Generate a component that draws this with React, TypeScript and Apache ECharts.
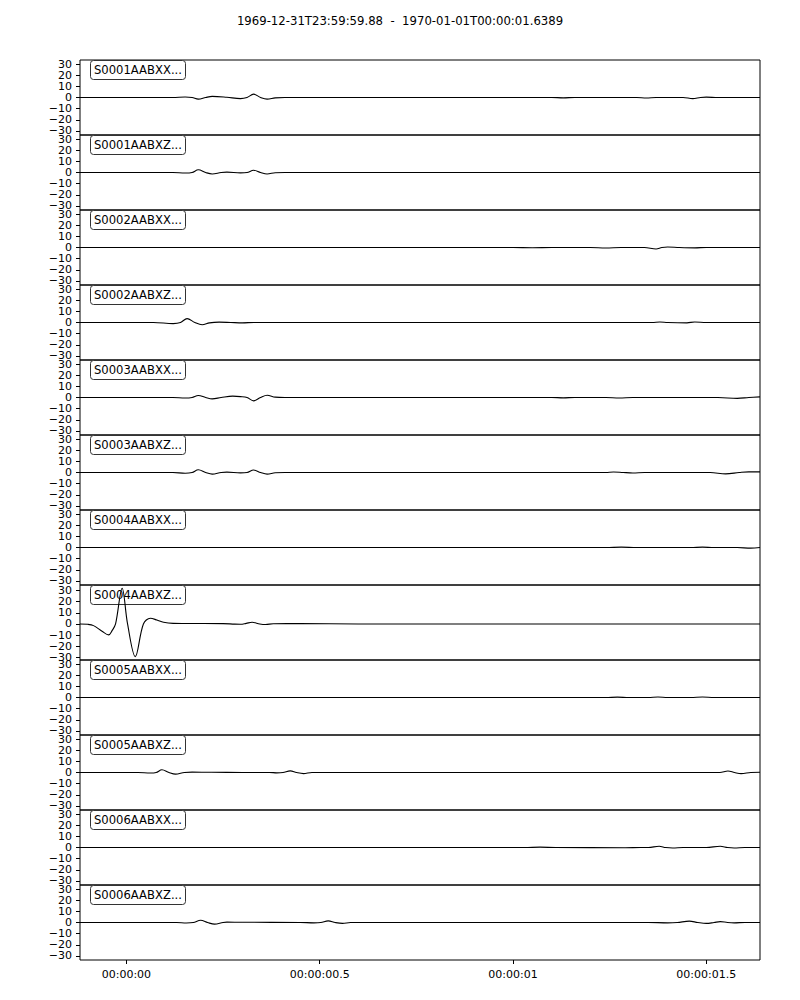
import React, { useEffect, useRef } from 'react';
import * as echarts from 'echarts';

const TITLE = '1969-12-31T23:59:59.88  -  1970-01-01T00:00:01.6389';
const T_MIN = -0.12;
const T_MAX = 1.6389;
const Y_HALF = 33.6;
const Y_TICKS = [-30, -20, -10, 0, 10, 20, 30];
const X_TICKS = [0, 0.5, 1, 1.5];
const X_TICK_LABELS = ['00:00:00', '00:00:00.5', '00:00:01', '00:00:01.5'];

const STATIONS = [
  'S0001AABXX...', 'S0001AABXZ...', 'S0002AABXX...', 'S0002AABXZ...',
  'S0003AABXX...', 'S0003AABXZ...', 'S0004AABXX...', 'S0004AABXZ...',
  'S0005AABXX...', 'S0005AABXZ...', 'S0006AABXX...', 'S0006AABXZ...',
];

// per-panel centre of the y range (trace mean)
const Y_CENTERS = [0, 0, 0, 0, 0, 0, 0, 1.3, 0, 0, 0, 0];

// [time (s), amplitude]
const S0001AABXX: number[][] = [
  [-0.12, 0], [0.12, 0], [0.152, 0.5], [0.17, 0], [0.186, -1.5], [0.205, 0], [0.222, 1], [0.26, 0.2],
  [0.295, -1], [0.312, 0], [0.329, 3], [0.347, 0], [0.364, -1.5], [0.385, -0.3], [0.41, 0],
  [1.1, 0], [1.13, -0.3], [1.16, 0], [1.32, 0], [1.345, -0.5], [1.37, 0], [1.44, 0], [1.465, -1],
  [1.485, 0], [1.5, 0.3], [1.53, 0], [1.6389, 0],
];
const S0001AABXZ: number[][] = [
  [-0.12, 0], [0.12, 0], [0.152, -0.5], [0.17, 0], [0.186, 2.4], [0.205, 0], [0.222, -1.3], [0.245, 0],
  [0.26, 0.3], [0.295, -0.3], [0.312, 0], [0.329, 2], [0.347, 0], [0.364, -1.3], [0.385, -0.2],
  [0.41, 0], [1.6389, 0],
];
const S0002AABXX: number[][] = [
  [-0.12, 0], [1.0, 0], [1.05, -0.2], [1.1, 0], [1.2, 0], [1.24, -0.5], [1.28, 0], [1.34, 0],
  [1.37, -1.3], [1.385, 0], [1.4, 0.5], [1.43, 0], [1.47, -0.3], [1.5, 0], [1.6389, 0],
];
const S0002AABXZ: number[][] = [
  [-0.12, 0], [0.07, 0], [0.121, -1], [0.14, 0], [0.157, 3.5], [0.177, 0], [0.196, -2], [0.215, -0.3],
  [0.24, 0.3], [0.27, 0], [0.3, -0.3], [0.33, 0], [1.36, 0], [1.38, 0.5], [1.4, 0], [1.45, -0.3],
  [1.47, 0.5], [1.5, 0], [1.6389, 0],
];
const S0003AABXX: number[][] = [
  [-0.12, 0], [0.12, 0], [0.152, -0.5], [0.17, 0], [0.186, 1.8], [0.205, 0], [0.222, -1.2], [0.245, 0],
  [0.275, 1.2], [0.295, 0.8], [0.312, 0], [0.329, -3], [0.347, 0], [0.364, 2], [0.385, 0.3], [0.41, 0],
  [1.1, 0], [1.13, -0.3], [1.16, 0], [1.24, 0], [1.275, -0.5], [1.31, 0], [1.53, 0], [1.58, -0.8],
  [1.61, 0], [1.6389, 0.6],
];
const S0003AABXZ: number[][] = [
  [-0.12, 0], [0.12, 0], [0.152, -0.7], [0.17, 0], [0.186, 2.4], [0.205, 0], [0.222, -1.5], [0.245, 0],
  [0.26, 0.3], [0.295, -0.3], [0.312, 0], [0.329, 2.2], [0.347, 0], [0.364, -1.5], [0.385, -0.2],
  [0.41, 0], [1.24, 0], [1.26, 0.5], [1.285, 0], [1.31, -0.4], [1.34, 0], [1.51, 0], [1.55, -1.2],
  [1.585, 0], [1.61, 0.6], [1.6389, 0.6],
];
const S0004AABXX: number[][] = [
  [-0.12, 0], [1.24, 0], [1.28, 0.3], [1.32, 0], [1.46, 0], [1.49, 0.3], [1.52, 0], [1.58, 0],
  [1.615, -0.6], [1.6389, 0],
];
const S0004AABXZ: number[][] = [
  [-0.12, 0], [-0.1, -0.3], [-0.085, -1.5], [-0.063, -6.5], [-0.046, -9.8], [-0.037, -6], [-0.028, 0],
  [-0.011, 32], [0.003, 0], [0.023, -29.3], [0.044, 0], [0.062, 5.1], [0.079, 3.5], [0.096, 1.5],
  [0.121, 0.5], [0.15, 0.4], [0.25, 0.3], [0.28, -0.2], [0.295, -0.3], [0.31, 0.5], [0.325, 1.5],
  [0.345, 0], [0.36, -0.5], [0.38, 0.2], [0.45, 0.3], [0.6, 0], [1.6389, 0],
];
const S0005AABXX: number[][] = [
  [-0.12, 0], [1.24, 0], [1.27, 0.3], [1.3, 0], [1.35, 0], [1.375, 0.5], [1.4, 0], [1.46, 0],
  [1.49, 0.5], [1.52, 0], [1.6389, 0],
];
const S0005AABXZ: number[][] = [
  [-0.12, 0], [0.03, 0], [0.062, -0.5], [0.077, 0], [0.092, 2.4], [0.11, 0], [0.127, -1.5], [0.15, 0],
  [0.17, 0.3], [0.22, 0.2], [0.3, 0], [0.37, 0], [0.389, -0.3], [0.405, 0], [0.424, 1.5], [0.44, 0],
  [0.458, -1], [0.48, 0], [1.535, 0], [1.556, 1.3], [1.573, 0], [1.59, -1], [1.615, 0], [1.6389, 0.2],
];
const S0006AABXX: number[][] = [
  [-0.12, 0], [1.03, 0], [1.07, 0.3], [1.11, 0], [1.29, -0.2], [1.33, 0], [1.35, 0], [1.378, 1.1],
  [1.395, 0], [1.413, -0.4], [1.44, 0], [1.5, 0], [1.536, 1.1], [1.555, 0], [1.572, -0.4], [1.6, 0],
  [1.6389, 0],
];
const S0006AABXZ: number[][] = [
  [-0.12, 0], [0.13, 0], [0.155, -0.4], [0.173, 0], [0.192, 2], [0.21, 0], [0.228, -1.5], [0.25, 0],
  [0.26, 0.3], [0.3, 0.2], [0.45, 0], [0.485, -0.3], [0.503, 0], [0.522, 1.5], [0.54, 0],
  [0.559, -0.8], [0.58, 0], [1.35, 0], [1.4, -0.3], [1.425, 0], [1.456, 1.2], [1.478, 0], [1.5, -0.8],
  [1.52, 0], [1.536, 0.8], [1.555, 0], [1.572, -0.3], [1.6, 0], [1.6389, 0],
];

const TRACES = [
  S0001AABXX, S0001AABXZ, S0002AABXX, S0002AABXZ, S0003AABXX, S0003AABXZ,
  S0004AABXX, S0004AABXZ, S0005AABXX, S0005AABXZ, S0006AABXX, S0006AABXZ,
];

const FONT = 'DejaVu Sans';
const GRID_LEFT = 80;
const GRID_WIDTH = 680;
const GRID_TOP = 60;
const PANEL_H = 75;

function fmtY(v: number) {
  return v < 0 ? '\u2212' + Math.abs(v) : String(v);
}

export default function App() {
  const ref = useRef<HTMLDivElement>(null);
  useEffect(() => {
    document.body.style.margin = '0';
    if (!ref.current) return;
    const chart = echarts.init(ref.current, null, { renderer: 'svg' });
    const n = TRACES.length;
    const grids: any[] = [];
    const xAxes: any[] = [];
    const yAxes: any[] = [];
    const series: any[] = [];
    const titles: any[] = [
      {
        text: TITLE,
        left: 'center',
        top: 15,
        padding: 0,
        z: 1,
        textStyle: { fontFamily: FONT, fontSize: 11.7, fontWeight: 'normal', color: '#000' },
      },
    ];
    for (let i = 0; i < n; i++) {
      const last = i === n - 1;
      grids.push({
        left: GRID_LEFT,
        width: GRID_WIDTH,
        top: GRID_TOP + PANEL_H * i,
        height: PANEL_H,
        show: true,
        borderColor: '#000',
        borderWidth: 1,
        backgroundColor: 'transparent',
      });
      xAxes.push({
        type: 'value',
        gridIndex: i,
        min: T_MIN,
        max: T_MAX,
        position: 'bottom',
        axisLine: { show: false, onZero: false },
        splitLine: { show: false },
        axisTick: {
          show: last,
          length: 4,
          lineStyle: { color: '#000', width: 1 },
          customValues: X_TICKS,
        },
        axisLabel: {
          show: last,
          margin: 9,
          fontFamily: FONT,
          fontSize: 11,
          color: '#000',
          customValues: X_TICKS,
          formatter: (v: number) => {
            const k = X_TICKS.findIndex((t) => Math.abs(t - v) < 1e-6);
            return k >= 0 ? X_TICK_LABELS[k] : '';
          },
        },
      });
      const c = Y_CENTERS[i];
      yAxes.push({
        type: 'value',
        gridIndex: i,
        min: c - Y_HALF,
        max: c + Y_HALF,
        position: 'left',
        axisLine: { show: false, onZero: false },
        splitLine: { show: false },
        axisTick: {
          show: true,
          length: 4,
          lineStyle: { color: '#000', width: 1 },
          customValues: Y_TICKS,
        },
        axisLabel: {
          show: true,
          margin: 8,
          fontFamily: FONT,
          fontSize: 11,
          color: '#000',
          lineHeight: 11,
          customValues: Y_TICKS,
          formatter: (v: number) => fmtY(Math.round(v)),
        },
      });
      series.push({
        type: 'line',
        xAxisIndex: i,
        yAxisIndex: i,
        data: TRACES[i],
        showSymbol: false,
        smooth: 0.35,
        lineStyle: { color: '#000', width: 1.1 },
        z: 5,
      });
      titles.push({
        text: STATIONS[i],
        left: 90,
        top: GRID_TOP + PANEL_H * i,
        padding: [4, 4, 4, 4],
        backgroundColor: '#fff',
        borderColor: '#333',
        borderWidth: 1,
        borderRadius: 3,
        z: 1,
        textStyle: { fontFamily: FONT, fontSize: 11.6, fontWeight: 'normal', color: '#000', lineHeight: 12 },
      });
    }
    chart.setOption({
      animation: false,
      backgroundColor: '#fff',
      title: titles,
      grid: grids,
      xAxis: xAxes,
      yAxis: yAxes,
      series,
    });
    return () => chart.dispose();
  }, []);
  return <div ref={ref} style={{ width: 800, height: 1000 }} />;
}
